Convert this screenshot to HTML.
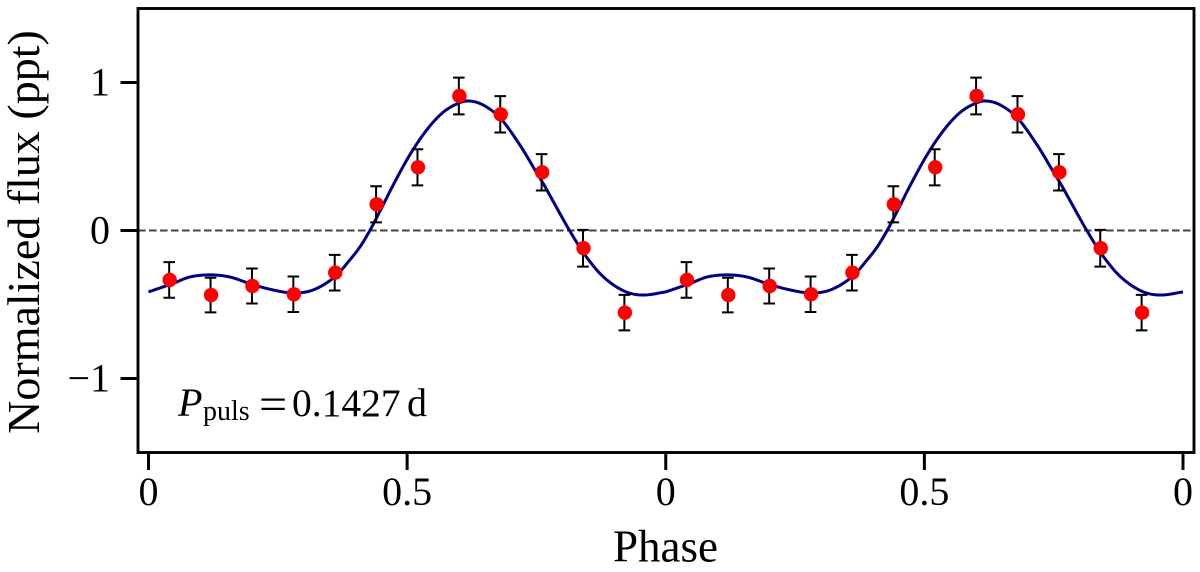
<!DOCTYPE html>
<html>
<head>
<meta charset="utf-8">
<title>Normalized flux vs phase</title>
<style>
html,body{margin:0;padding:0;background:#fff;width:1200px;height:572px;overflow:hidden}
svg{display:block}
text{font-family:"Liberation Serif","Times New Roman",serif;fill:#000}
</style>
</head>
<body>
<svg id="chart" xmlns="http://www.w3.org/2000/svg" width="1200" height="572" viewBox="0 0 1200 572">
  <rect x="0" y="0" width="1200" height="572" fill="#fff"/>
  <g id="series"></g>
  <rect x="138" y="8.5" width="1056" height="444" fill="none" stroke="#000" stroke-width="2.9"/>
  <g id="ticks"></g>
  <text x="665.5" y="561.5" font-size="45" text-anchor="middle">Phase</text>
  <text transform="translate(39 232) rotate(-90)" font-size="46" text-anchor="middle">Normalized flux (ppt)</text>
  <g>
    <text x="178" y="416" font-size="40" font-style="italic">P</text>
    <text x="203" y="420" font-size="28">puls</text>
    <text transform="translate(259 419.5) scale(1.25 1.15)" font-size="40">=</text>
    <text x="292" y="416" font-size="39.5">0.1427</text>
    <text x="407" y="416" font-size="40">d</text>
  </g>
</svg>
<script>
// Binned measurements, one cycle (repeated for each plotted cycle)
const binPhases = [0.04, 0.12, 0.20, 0.28, 0.36, 0.44, 0.52, 0.60, 0.68, 0.76, 0.84, 0.92];
const binFlux = [-0.334, -0.436, -0.375, -0.431, -0.285, 0.177, 0.427, 0.909, 0.785, 0.393, -0.12, -0.555];
const binError = [0.12, 0.117, 0.118, 0.12, 0.12, 0.122, 0.122, 0.124, 0.123, 0.123, 0.124, 0.12];
// Model curve, one cycle
const modelPhases = [0, 0.048, 0.08, 0.119, 0.157, 0.2, 0.241, 0.28, 0.318, 0.36, 0.389, 0.409, 0.428, 0.447, 0.473, 0.505, 0.538, 0.57, 0.602, 0.621, 0.647, 0.68, 0.718, 0.747, 0.766, 0.789, 0.814, 0.844, 0.879, 0.92, 0.956, 1];
const modelFlux = [-0.415, -0.357, -0.314, -0.3, -0.314, -0.364, -0.402, -0.422, -0.402, -0.314, -0.2, -0.11, 0, 0.127, 0.307, 0.51, 0.68, 0.8, 0.864, 0.875, 0.848, 0.76, 0.578, 0.41, 0.3, 0.155, 0, -0.166, -0.312, -0.41, -0.436, -0.415];
const cycles = [0, 1];
const xTickValues = [0, 0.5, 1, 1.5, 2];
const xTickLabels = ['0', '0.5', '0', '0.5', '0'];
const yTickValues = [-1, 0, 1];
const yTickLabels = ['\u22121', '0', '1'];
const referenceLevel = [0];

const NS = 'http://www.w3.org/2000/svg';
const xScale = v => 148.5 + v * 517.25;
const yScale = v => 230.5 - v * 148;
const series = document.getElementById('series');
const ticks = document.getElementById('ticks');

function make(parent, tag, attrs) {
  const el = document.createElementNS(NS, tag);
  for (const k in attrs) el.setAttribute(k, attrs[k]);
  parent.appendChild(el);
  return el;
}

// Reference line
referenceLevel.forEach(v => {
  const ref = make(series, 'line', {x1: 138, x2: 1194, y1: yScale(v), y2: yScale(v), stroke: '#444', 'stroke-width': 2, 'stroke-dasharray': '7.6 3.4'});
  
  
});

// Hermite interpolation through the model samples
function modelAt(p) {
  const n = modelPhases.length;
  let i = 0;
  while (i < n - 2 && p > modelPhases[i + 1]) i++;
  const slope = j => {
    const a = Math.max(j - 1, 0), b = Math.min(j + 1, n - 1);
    return (modelFlux[b] - modelFlux[a]) / (modelPhases[b] - modelPhases[a]);
  };
  const h = modelPhases[i + 1] - modelPhases[i];
  const t = (p - modelPhases[i]) / h;
  const t2 = t * t, t3 = t2 * t;
  return (2*t3 - 3*t2 + 1) * modelFlux[i] + (t3 - 2*t2 + t) * h * slope(i) +
         (-2*t3 + 3*t2) * modelFlux[i + 1] + (t3 - t2) * h * slope(i + 1);
}

let curvePoints = [];
cycles.forEach(c => {
  for (let s = 0; s <= 250; s++) {
    const p = s / 250;
    curvePoints.push(xScale(c + p).toFixed(2) + ',' + yScale(modelAt(p)).toFixed(2));
  }
});
const curve = make(series, 'polyline', {points: curvePoints.join(' '), fill: 'none', stroke: '#000080', 'stroke-width': 3, 'stroke-linejoin': 'round'});



// Error bars and points
cycles.forEach(c => {
  binPhases.forEach((p, i) => {
    const x = xScale(c + p);
    const hi = yScale(binFlux[i] + binError[i]);
    const lo = yScale(binFlux[i] - binError[i]);
    const bar = make(series, 'path', {d: `M${x} ${hi}V${lo}M${x - 5.8} ${hi}H${x + 5.8}M${x - 5.8} ${lo}H${x + 5.8}`, fill: 'none', stroke: '#000', 'stroke-width': 2});
    
    
  });
});
cycles.forEach(c => {
  binPhases.forEach((p, i) => {
    const dot = make(series, 'circle', {cx: xScale(c + p) + 0.5, cy: yScale(binFlux[i]), r: 7.2, fill: '#ff0000'});
    
    
  });
});

// Ticks and labels
xTickValues.forEach((v, i) => {
  const x = xScale(v);
  const tick = make(ticks, 'line', {x1: x, x2: x, y1: 452.5, y2: 470, stroke: '#000', 'stroke-width': 3});
  
  
  const label = make(ticks, 'text', {x: x, y: 505, 'font-size': 40, 'text-anchor': 'middle'});
  
  
  label.textContent = xTickLabels[i];
});
yTickValues.forEach((v, i) => {
  const y = yScale(v);
  const tick = make(ticks, 'line', {x1: 120.5, x2: 138, y1: y, y2: y, stroke: '#000', 'stroke-width': 3});
  
  
  const label = make(ticks, 'text', {x: 110, y: y + 13, 'font-size': 40, 'text-anchor': 'end'});
  
  
  label.textContent = yTickLabels[i];
});
</script>
</body>
</html>
